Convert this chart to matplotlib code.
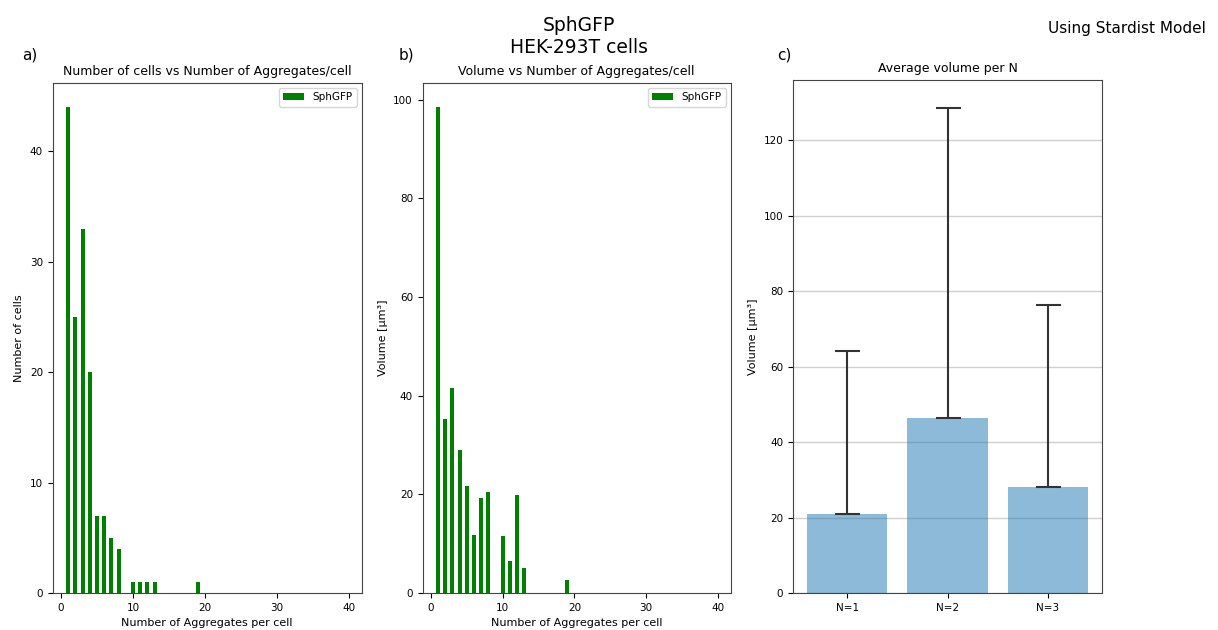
import matplotlib
matplotlib.use("Agg")
import matplotlib.pyplot as plt
import numpy as np

# aggregates per cell (x) and the two measured quantities
n_aggregates = [1, 2, 3, 4, 5, 6, 7, 8, 10, 11, 12, 13, 19]
n_cells = [44, 25, 33, 20, 7, 7, 5, 4, 1, 1, 1, 1, 1]
volume = [98.5, 35.2, 41.5, 28.9, 21.7, 11.8, 19.3, 20.5, 11.5, 6.5, 19.9, 5.1, 2.6]

# average volume per replicate
replicates = ["N=1", "N=2", "N=3"]
avg_volume = [21.0, 46.3, 28.2]
upper_err = [43.2, 82.2, 48.1]

fig = plt.figure(figsize=(12.18, 6.3), dpi=100)

ax_a = fig.add_axes([0.0433, 0.0587, 0.2537, 0.8095])
ax_b = fig.add_axes([0.3470, 0.0587, 0.2530, 0.8095])
ax_c = fig.add_axes([0.6510, 0.0587, 0.2540, 0.8143])

tick_fs = 7.5
label_fs = 8
title_fs = 9

# a) number of cells
ax_a.bar(n_aggregates, n_cells, width=0.55, color="green", label="SphGFP")
ax_a.set_xlim(-1.15, 41.8)
ax_a.set_ylim(0, 46.2)
ax_a.set_xticks([0, 10, 20, 30, 40])
ax_a.set_yticks([0, 10, 20, 30, 40])
ax_a.set_xlabel("Number of Aggregates per cell", fontsize=label_fs)
ax_a.set_ylabel("Number of cells", fontsize=label_fs)
ax_a.set_title("Number of cells vs Number of Aggregates/cell", fontsize=title_fs)
ax_a.legend(loc="upper right", fontsize=7.5)

# b) volume
ax_b.bar(n_aggregates, volume, width=0.55, color="green", label="SphGFP")
ax_b.set_xlim(-1.15, 41.8)
ax_b.set_ylim(0, 103.4)
ax_b.set_xticks([0, 10, 20, 30, 40])
ax_b.set_xlabel("Number of Aggregates per cell", fontsize=label_fs)
ax_b.set_ylabel("Volume [µm³]", fontsize=label_fs)
ax_b.set_title("Volume vs Number of Aggregates/cell", fontsize=title_fs)
ax_b.legend(loc="upper right", fontsize=7.5)

# c) average volume per N
x = np.arange(len(replicates))
ax_c.bar(x, avg_volume, width=0.8, color="#1f77b4", alpha=0.5)
ax_c.errorbar(x, avg_volume, yerr=[np.zeros(len(x)), upper_err], fmt="none",
              ecolor="#333333", elinewidth=1.5, capsize=9, capthick=1.5)
ax_c.set_xticks(x)
ax_c.set_xticklabels(replicates)
ax_c.set_ylim(0, 135.9)
ax_c.set_yticks([0, 20, 40, 60, 80, 100, 120])
ax_c.yaxis.grid(True, color="#d0d0d0", linewidth=1)
ax_c.set_axisbelow(True)
ax_c.set_ylabel("Volume [µm³]", fontsize=label_fs)
ax_c.set_title("Average volume per N", fontsize=title_fs)

for ax in (ax_a, ax_b, ax_c):
    ax.tick_params(labelsize=tick_fs)
    for spine in ax.spines.values():
        spine.set_color("#444444")

fig.text(0.018, 0.905, "a)", fontsize=11)
fig.text(0.327, 0.905, "b)", fontsize=11)
fig.text(0.638, 0.905, "c)", fontsize=11)
fig.text(0.475, 0.975, "SphGFP\nHEK-293T cells", fontsize=13.5, ha="center", va="top")
fig.text(0.99, 0.955, "Using Stardist Model", fontsize=11, ha="right", va="center")

fig.savefig("out.png", dpi=100)
